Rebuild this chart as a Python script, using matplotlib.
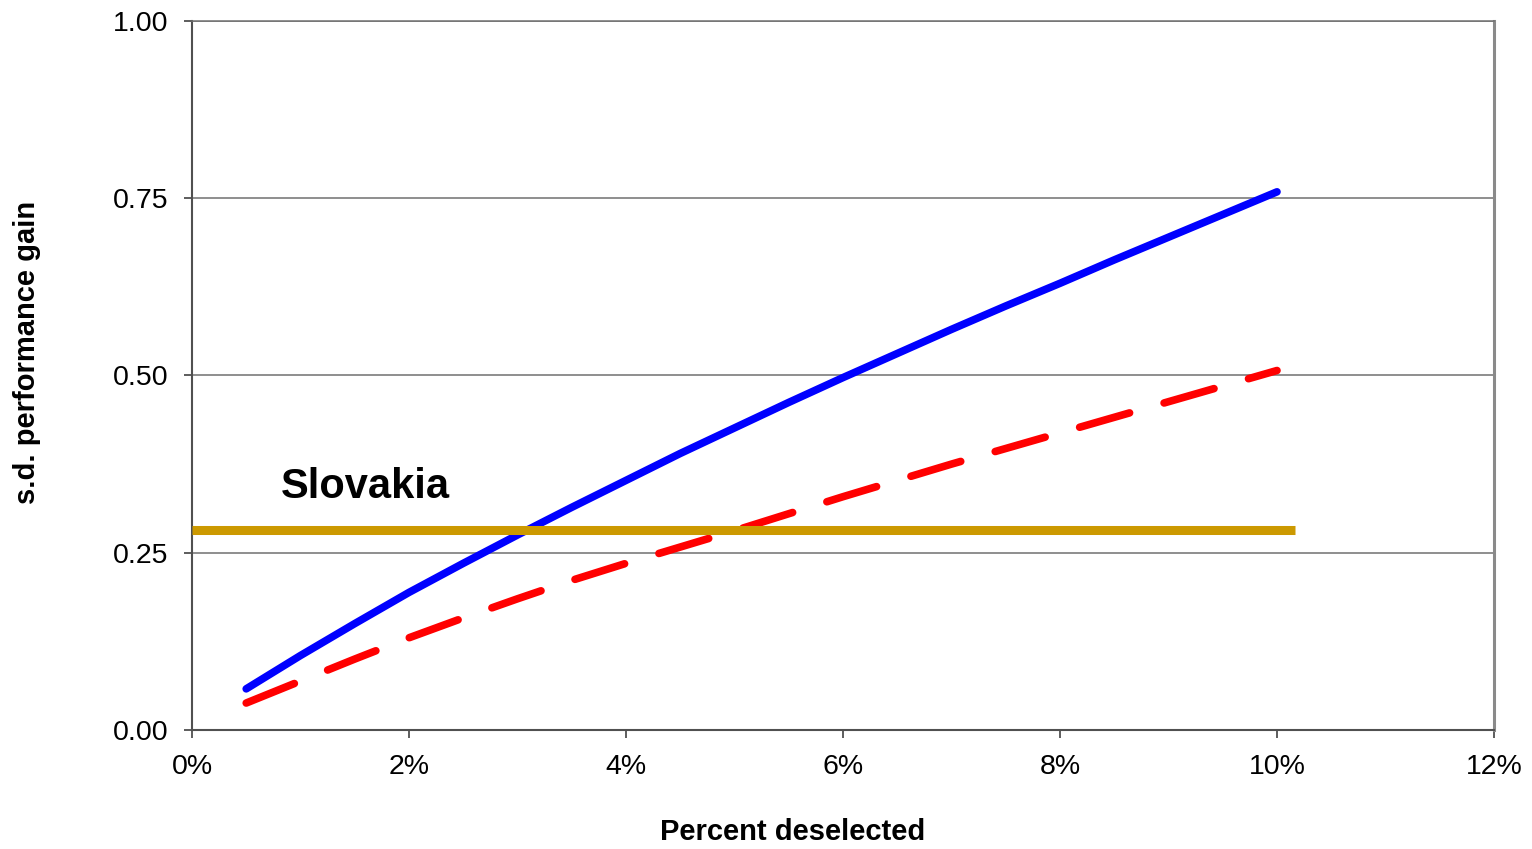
import matplotlib
matplotlib.use("Agg")
import matplotlib.pyplot as plt
import numpy as np

plt.rcParams['font.family'] = ['Liberation Sans', 'DejaVu Sans']

# percent deselected (x) and s.d. performance gain for the two curves
pct = [0.5, 1.0, 1.5, 2.0, 2.5, 3.0, 3.5, 4.0, 4.5, 5.0,
       5.5, 6.0, 6.5, 7.0, 7.5, 8.0, 8.5, 9.0, 9.5, 10.0]
gain_solid = [0.058, 0.105, 0.150, 0.194, 0.235, 0.275, 0.314, 0.352, 0.390, 0.426,
              0.462, 0.497, 0.531, 0.565, 0.598, 0.630, 0.663, 0.695, 0.727, 0.759]
gain_dashed = [0.038, 0.069, 0.100, 0.130, 0.158, 0.185, 0.211, 0.235, 0.258, 0.281,
               0.305, 0.329, 0.352, 0.375, 0.397, 0.419, 0.441, 0.463, 0.485, 0.507]

# Slovakia reference level
slovakia_x = [0.0, 10.17]
slovakia_y = [0.282, 0.282]

xticks = [0, 2, 4, 6, 8, 10, 12]
yticks = [0.0, 0.25, 0.5, 0.75, 1.0]

fig = plt.figure(figsize=(15.32, 8.49), dpi=100)
ax = fig.add_axes([0.1253, 0.1402, 0.8499, 0.8351])

ax.plot(pct, gain_solid, color='#0000FF', lw=5.5, solid_capstyle='round', zorder=3)
ax.plot(pct, gain_dashed, color='#FF0000', lw=5.5, dashes=(6.8, 4.7),
        dash_capstyle='round', zorder=3)
ax.plot(slovakia_x, slovakia_y, color='#CC9900', lw=6.5, solid_capstyle='butt',
        zorder=4, clip_on=False)

ax.text(0.82, 0.327, 'Slovakia', fontsize=30, fontweight='bold', va='baseline', ha='left')

ax.set_xlim(0, 12)
ax.set_ylim(0, 1)
ax.set_xticks(xticks)
ax.set_xticklabels([f'{v}%' for v in xticks])
ax.set_yticks(yticks)
ax.set_yticklabels([f'{v:.2f}' for v in yticks])

ax.grid(axis='y', color='#707070', lw=1.1)
ax.set_axisbelow(True)

for side in ['left', 'bottom']:
    ax.spines[side].set_color('#505050')
    ax.spines[side].set_linewidth(1.5)
ax.spines['top'].set_color('#707070')
ax.spines['top'].set_linewidth(1.1)
ax.spines['right'].set_color('#8a8a8a')
ax.spines['right'].set_linewidth(2.2)

ax.tick_params(axis='both', direction='out', length=6, width=1.3, color='#505050',
               labelsize=20.5)
ax.tick_params(axis='y', pad=11)
ax.tick_params(axis='x', pad=11)

ax.set_xlabel('Percent deselected', fontsize=21, fontweight='bold')
ax.set_ylabel('s.d. performance gain', fontsize=21, fontweight='bold')
ax.xaxis.set_label_coords(0.4616, -0.144)
ax.yaxis.set_label_coords(-0.127, 0.533)
ax.xaxis.label.set_va('center')
ax.yaxis.label.set_va('center')

fig.savefig('out.png', dpi=100)
